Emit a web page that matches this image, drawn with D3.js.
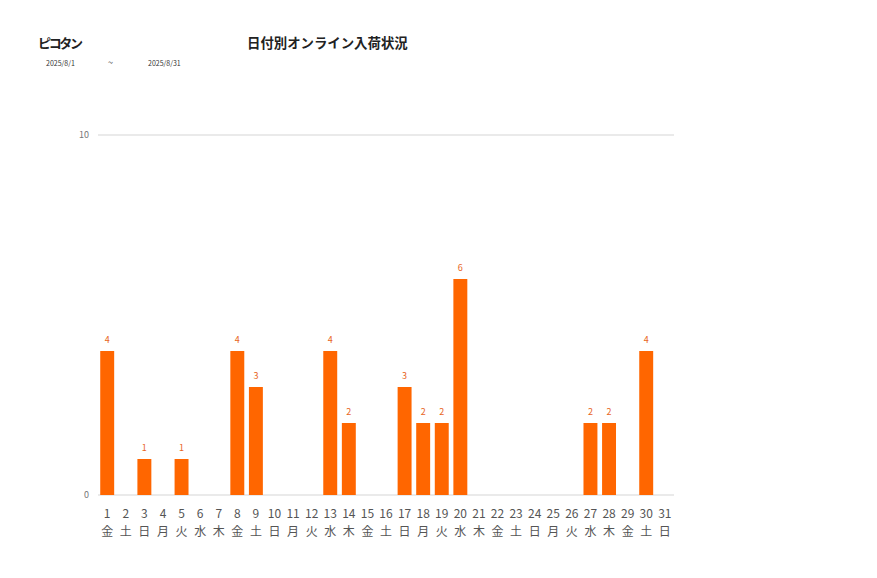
<!DOCTYPE html>
<html lang="ja">
<head>
<meta charset="utf-8">
<title>日付別オンライン入荷状況</title>
<script src="https://cdn.jsdelivr.net/npm/d3@7/dist/d3.min.js"></script>
<style>
  body { margin: 0; background: #fff; }
  svg { font-family: "Noto Sans CJK JP", "Noto Sans", sans-serif; }
</style>
</head>
<body>
<script>
// days of August 2025 and their weekday
var days = d3.range(1, 32).map(String);
var weekdays = ['金','土','日','月','火','水','木','金','土','日','月','火','水','木','金',
                '土','日','月','火','水','木','金','土','日','月','火','水','木','金','土','日'];
var counts = [4,0,1,0,1,0,0,4,3,0,0,0,4,2,0,0,3,2,2,6,0,0,0,0,0,0,2,2,0,4,0];
var yTicks = [0, 10];

var width = 877, height = 578;
var plotLeft = 98, plotRight = 674, plotTop = 135, plotBottom = 495;

var svg = d3.select('body').append('svg')
    .attr('width', width).attr('height', height);

// header
svg.append('text').attr('x', 38).attr('y', 48)
    .style('font-size', '13px').style('font-weight', 'bold').attr('fill', '#222')
    .attr('textLength', 45)
    .text('ピコタン');
svg.append('text').attr('x', 247).attr('y', 48)
    .style('font-size', '13.4px').style('font-weight', 'bold').attr('fill', '#222')
    .text('日付別オンライン入荷状況');
svg.append('text').attr('x', 46).attr('y', 66).style('font-size', '7px').attr('fill', '#333').text('2025/8/1');
svg.append('text').attr('x', 108).attr('y', 66).style('font-size', '9px').attr('fill', '#333').text('~');
svg.append('text').attr('x', 148).attr('y', 66).style('font-size', '7px').attr('fill', '#333').text('2025/8/31');

var x = d3.scaleBand().domain(days).range([plotLeft, plotRight]).paddingInner(0.25).paddingOuter(0.12);
var y = d3.scaleLinear().domain([0, 10]).range([plotBottom, plotTop]);

// grid lines
svg.append('g').selectAll('line')
    .data(yTicks)
    .enter().append('line')
    .attr('x1', plotLeft).attr('x2', plotRight)
    .attr('y1', d => y(d)).attr('y2', d => y(d))
    .attr('stroke', '#e3e3e3').attr('stroke-width', 1.5);

svg.append('g').selectAll('text')
    .data(yTicks)
    .enter().append('text')
    .attr('x', 89).attr('y', d => y(d) + 3)
    .attr('text-anchor', 'end')
    .style('font-size', '9px').attr('fill', '#777')
    .text(d => d);

// bars
svg.append('g').selectAll('rect')
    .data(counts)
    .enter().append('rect')
    .attr('x', (d, i) => x(days[i]))
    .attr('width', x.bandwidth())
    .attr('y', d => y(d))
    .attr('height', d => plotBottom - y(d))
    .attr('fill', '#ff6600');

// value labels
svg.append('g').selectAll('text')
    .data(counts.map((d, i) => ({ v: d, day: days[i] })).filter(d => d.v > 0))
    .enter().append('text')
    .attr('x', d => x(d.day) + x.bandwidth() / 2)
    .attr('y', d => y(d.v) - 8)
    .attr('text-anchor', 'middle')
    .style('font-size', '9px').attr('fill', '#e8651e')
    .text(d => d.v);

// x axis labels: day number and weekday
var xl = svg.append('g').selectAll('g')
    .data(days)
    .enter().append('g')
    .attr('transform', d => 'translate(' + (x(d) + x.bandwidth() / 2) + ',0)');
xl.append('text').attr('y', 518).attr('text-anchor', 'middle')
    .style('font-size', '12px').attr('fill', '#555')
    .text(d => d);
xl.append('text').attr('y', 536).attr('text-anchor', 'middle')
    .style('font-size', '12px').attr('fill', '#555')
    .text((d, i) => weekdays[i]);
</script>
</body>
</html>
